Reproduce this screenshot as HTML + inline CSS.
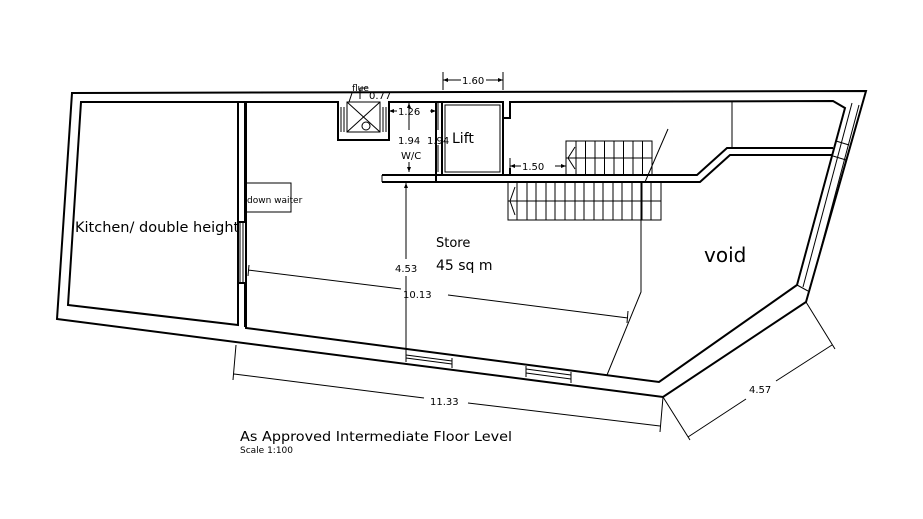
<!DOCTYPE html>
<html><head><meta charset="utf-8"><style>
html,body{margin:0;padding:0;background:#fff}
svg{display:block}
text{font-family:"DejaVu Sans","Liberation Sans",sans-serif;fill:#000}
</style></head><body>
<svg width="923" height="519" viewBox="0 0 923 519" xmlns="http://www.w3.org/2000/svg">
<g fill="none" stroke="#000" stroke-width="2" stroke-linejoin="miter">
<path d="M72,93 L866,91 L806,302 L663,397 L57,319 Z"/>
<path d="M81,102 L238,102 L238,325 L68,305 Z"/>
<path d="M246,102 L338,102 L338,140 L389,140 L389,102 L503,102 L503,118 L510,118 L510,102 L833,101 L845,108 L797,285 L659,382 L246,328 Z"/>
<path d="M238,102 L245,102 L245,222 L238,222"/>
<path d="M238,283 L245,283 L245,327"/>
</g>
<g fill="none" stroke="#000" stroke-width="1">
<line x1="240" y1="222" x2="240" y2="283"/><line x1="243" y1="222" x2="243" y2="283"/>
<line x1="852" y1="103" x2="803" y2="287"/>
<line x1="859" y1="105" x2="810" y2="289"/>
<line x1="836" y1="141" x2="849" y2="145"/>
<line x1="833" y1="156" x2="846" y2="160"/>
<line x1="797" y1="285" x2="808" y2="291"/>
<path d="M406,352 L406,362 M452,358 L452,368 M526,366 L526,377 M571,372 L571,383"/>
<line x1="406" y1="355" x2="452" y2="361"/><line x1="406" y1="358" x2="452" y2="364"/>
<line x1="526" y1="369" x2="571" y2="375"/><line x1="526" y1="373" x2="571" y2="379"/>
<rect x="347" y="102" width="33" height="30"/>
<line x1="347" y1="102" x2="380" y2="132"/><line x1="380" y1="102" x2="347" y2="132"/>
<circle cx="366" cy="126" r="4"/>
<path d="M341,107 V132 M344,107 V132 M383,107 V132 M386,107 V132"/>
<path d="M352,93 L349,102 M360,88 V99 M360,88 L368,88"/>
<rect x="442" y="102" width="61" height="73" stroke-width="2"/>
<rect x="445" y="105" width="55" height="67"/>
<path d="M436,102 V182" stroke-width="2"/>
<path d="M382,175 L697,175 L727,148 L833,148" stroke-width="2"/>
<path d="M382,182 L700,182 L730,155 L832,155" stroke-width="2"/>
<line x1="382" y1="175" x2="382" y2="182"/>
<line x1="510" y1="168" x2="510" y2="175" stroke-width="2"/>
<line x1="732" y1="102" x2="732" y2="148"/>
<rect x="566" y="141" width="86" height="34"/>
<line x1="566" y1="158" x2="652" y2="158"/>
<path d="M576,141V175M585.5,141V175M595,141V175M604.5,141V175M614,141V175M623.5,141V175M633,141V175M642.5,141V175"/>
<path d="M575,147 L568,158 L575,169"/>
<rect x="508" y="182" width="153" height="38"/>
<line x1="508" y1="201" x2="661" y2="201"/>
<path d="M517,182V220M527,182V220M536,182V220M546,182V220M555,182V220M565,182V220M575,182V220M584,182V220M594,182V220M603,182V220M613,182V220M622,182V220M632,182V220M642,182V220M651,182V220"/>
<path d="M515,187 L510,201 L515,215"/>
<path d="M668,129 L645,182 M641,182 L641,292 L607,375"/>
<rect x="246" y="183" width="45" height="29"/>
<path d="M443,72 V90 M503,72 V90 M443,80 H461 M486,80 H503"/>
<path d="M389,111 H397 M430,111 H436"/>
<path d="M409,103 V130 M409,162 V172"/>
<path d="M438,103 V130 M438,145 V172"/>
<path d="M510,158 V170 M510,166 H521 M555,166 H566"/>
<path d="M406,183 V259 M406,276 V352"/>
<path d="M248,270 L401,289 M448,295 L628,318 M249,265 L248,276 M628,311 L627,323"/>
<path d="M234,374 L424,398 M468,403 L660,426 M236,345 L233,380 M663,397 L660,432"/>
<path d="M688,437 L746,399 M776,381 L832,345 M663,397 L690,440 M806,302 L835,349"/>
</g>
<g fill="#000">
<path d="M443,80 l5,-2 v4z M503,80 l-5,-2 v4z M389,111 l5,-2 v4z M436,111 l-5,-2 v4z M409,103 l-2,5 h4z M409,172 l-2,-5 h4z M510,166 l5,-2 v4z M566,166 l-5,-2 v4z M406,183 l-2,5 h4z"/>
</g>
<text x="352" y="91" font-size="9">flue</text>
<text x="369" y="99" font-size="10">0.77</text>
<text x="398" y="115" font-size="10">1.26</text>
<text x="398" y="144" font-size="10">1.94</text>
<text x="401" y="159" font-size="10">W/C</text>
<text x="427" y="144" font-size="10">1.94</text>
<text x="452" y="143" font-size="14">Lift</text>
<text x="462" y="84" font-size="10">1.60</text>
<text x="522" y="170" font-size="10">1.50</text>
<text x="247" y="203" font-size="9">down waiter</text>
<text x="75" y="232" font-size="14.5">Kitchen/ double height</text>
<text x="436" y="247" font-size="13">Store</text>
<text x="436" y="270" font-size="14">45 sq m</text>
<text x="704" y="262" font-size="20">void</text>
<text x="395" y="272" font-size="10">4.53</text>
<text x="403" y="298" font-size="10">10.13</text>
<text x="430" y="405" font-size="10">11.33</text>
<text x="749" y="393" font-size="10">4.57</text>
<text x="240" y="441" font-size="13" textLength="272" lengthAdjust="spacingAndGlyphs">As Approved Intermediate Floor Level</text>
<text x="240" y="453" font-size="9">Scale 1:100</text>
</svg>
</body></html>
